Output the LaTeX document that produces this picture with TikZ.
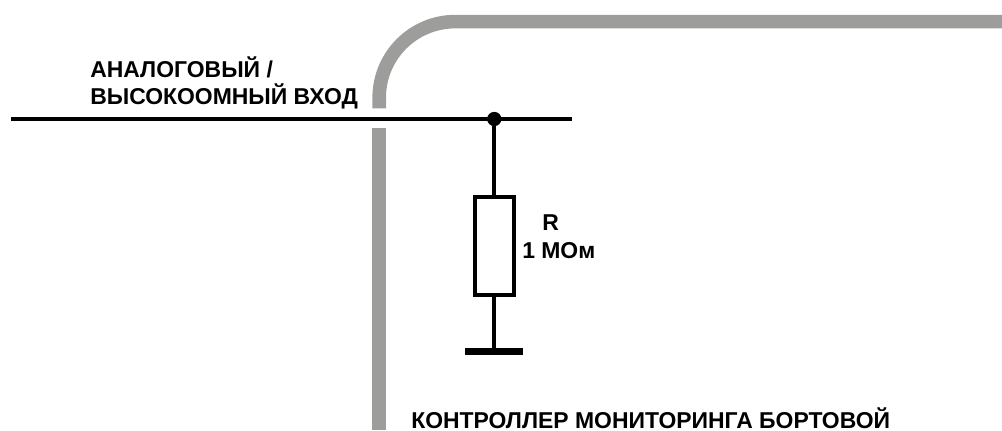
\documentclass[tikz,border=0pt]{standalone}
\usepackage{fontspec}
\setmainfont{Liberation Sans}
\definecolor{bandgrey}{HTML}{9D9D9C}
\tikzset{
  px/.style={x=0.75pt,y=-0.75pt},
  band/.style={draw=bandgrey,line width=10.2pt},
  wire/.style={draw=black,line width=3pt},
  lbl/.style={inner sep=0pt,font=\fontsize{17.2pt}{20.8pt}\selectfont\bfseries,align=left},
  resistor/.style={draw=black,line width=3pt,fill=white,inner sep=0pt,minimum width=29.25pt,minimum height=73.5pt},
  junction/.style={circle,fill=black,inner sep=0pt,minimum size=10.7pt},
  groundbar/.style={fill=black,inner sep=0pt,minimum width=43.7pt,minimum height=5pt}
}
\begin{document}
\begin{tikzpicture}[px]
\useasboundingbox (0,0) rectangle (1002,430);
\draw[band] (379.2,108.3) -- (379.2,97.6) arc (180:270:76) -- (1002,21.6);
\draw[band] (379.2,128.3) -- (379.2,430);
\coordinate (inL) at (11,119);
\coordinate (inR) at (572,119);
\draw[wire] (inL) -- (inR);
\node[junction] (j) at (494.3,119) {};
\node[resistor] (r) at (494.3,246) {};
\node[groundbar] (g) at (494.3,351.6) {};
\draw[wire] (j) -- (r.north);
\draw[wire] (r.south) -- (g.north);
\node[lbl,anchor=west] (t1) at (90,83) {АНАЛОГОВЫЙ /\\ВЫСОКООМНЫЙ ВХОД};
\node[lbl,anchor=west] (t2) at (522,237) {\hspace*{15pt}R\\1 МОм};
\node[lbl,anchor=base west] (t3) at (411,428) {КОНТРОЛЛЕР МОНИТОРИНГА БОРТОВОЙ};
\end{tikzpicture}
\end{document}
